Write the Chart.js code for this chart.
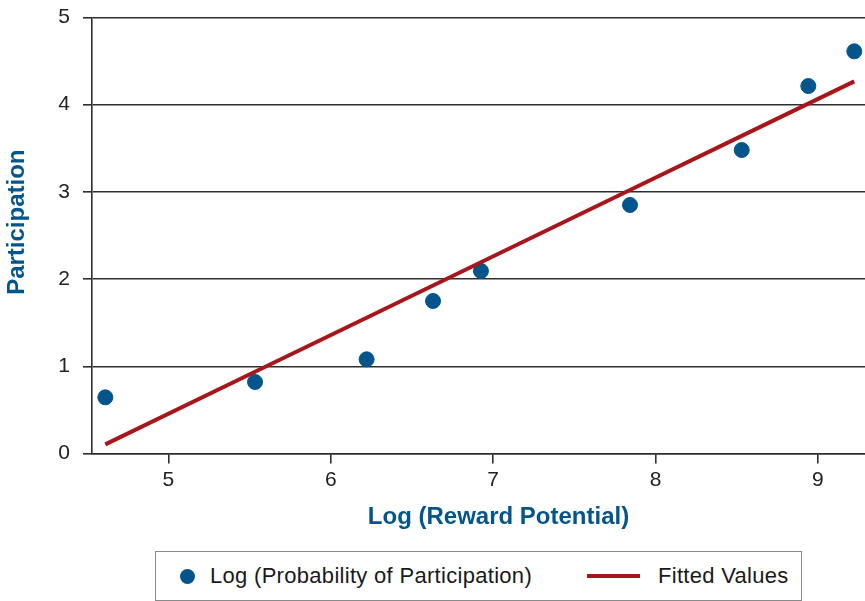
<!DOCTYPE html>
<html>
<head>
<meta charset="utf-8">
<script src="https://cdn.jsdelivr.net/npm/chart.js@4.4.1/dist/chart.umd.min.js"></script>
<style>
  html, body { margin: 0; padding: 0; background: #fff; }
  #wrap { position: relative; width: 865px; height: 601px; overflow: hidden; }
  #chart-box { position: absolute; left: 0; top: 0; width: 865px; height: 540px; }
  #legend {
    position: absolute; left: 155px; top: 551px; width: 647px; height: 50px;
    border: 1px solid #8a8a8a; box-sizing: border-box;
    font-family: "Liberation Sans", Arial, sans-serif; font-size: 22px; letter-spacing: 0.3px; color: #1a1a1a;
  }
  .item { position: absolute; top: 0; height: 48px; display: flex; align-items: center; }
  .dot { width: 15px; height: 15px; border-radius: 50%; margin-right: 15px; }
  .bar { width: 53px; height: 4px; margin-right: 18px; }
</style>
</head>
<body>
<div id="wrap">
  <div id="chart-box"><canvas id="chart"></canvas></div>
  <div id="legend"></div>
</div>
<script>
// log reward potential (x) and log probability of participation (y)
const rewardLog = [4.612, 5.534, 6.221, 6.630, 6.925, 7.843, 8.531, 8.941, 9.224];
const participationLog = [0.644, 0.820, 1.080, 1.749, 2.093, 2.850, 3.480, 4.214, 4.612];
// fitted line, at the same x values
const fittedValues = [0.105, 0.937, 1.557, 1.926, 2.193, 3.021, 3.642, 4.012, 4.268];
const xTicks = [5, 6, 7, 8, 9];
const yTicks = [0, 1, 2, 3, 4, 5];

const blue = '#03558c';
const red = '#a8161c';
const ink = '#222222';
const gridInk = '#2e2e2e';
const tickFont = { family: '"Liberation Sans", Arial, sans-serif', size: 21 };
const titleFont = { family: '"Liberation Sans", Arial, sans-serif', size: 24, weight: 'bold' };

const ctx = document.getElementById('chart').getContext('2d');

const chart = new Chart(ctx, {
  type: 'scatter',
  data: {
    datasets: [
      {
        label: 'Log (Probability of Participation)',
        data: rewardLog.map((x, i) => ({ x: x, y: participationLog[i] })),
        backgroundColor: blue,
        borderColor: blue,
        pointRadius: 7.5,
        pointHoverRadius: 7.5,
        order: 2
      },
      {
        type: 'line',
        label: 'Fitted Values',
        data: rewardLog.map((x, i) => ({ x: x, y: fittedValues[i] })),
        borderColor: red,
        backgroundColor: red,
        borderWidth: 4,
        pointRadius: 0,
        showLine: true,
        fill: false,
        order: 1
      }
    ]
  },
  options: {
    responsive: true,
    maintainAspectRatio: false,
    animation: false,
    layout: { autoPadding: false, padding: { top: 17.5, right: 0, bottom: 0, left: 0 } },
    plugins: {
      legend: { display: false },
      tooltip: { enabled: false }
    },
    scales: {
      x: {
        type: 'linear',
        min: 4.53,
        max: 9.29,
        afterBuildTicks: (axis) => { axis.ticks = xTicks.map((v) => ({ value: v })); },
        afterFit: (axis) => {
          axis.height = 540 - 453.5;
          axis.paddingLeft = 0;
          axis.paddingRight = 0;
        },
        ticks: { color: ink, font: tickFont, padding: 4, maxRotation: 0 },
        grid: { drawOnChartArea: false, drawTicks: true, tickLength: 10, color: gridInk, lineWidth: 1.6 },
        border: { display: true, color: gridInk, width: 1.6 },
        // leading spaces push the title a bit right, like the original
        title: { display: true, text: '\u00a0\u00a0\u00a0\u00a0\u00a0\u00a0Log (Reward Potential)', color: blue, font: titleFont, padding: { top: 0, bottom: 8 } }
      },
      y: {
        min: 0,
        max: 5,
        afterBuildTicks: (axis) => { axis.ticks = yTicks.map((v) => ({ value: v })); },
        afterFit: (axis) => {
          axis.width = 92;
          axis.paddingTop = 0;
          axis.paddingBottom = 0;
        },
        ticks: { color: ink, font: tickFont, padding: 13 },
        grid: { drawOnChartArea: true, drawTicks: true, tickLength: 9, color: gridInk, lineWidth: 1.6 },
        border: { display: true, color: gridInk, width: 1.6 },
        // leading spaces nudge the title up a little, like the original
        title: { display: true, text: '\u00a0\u00a0\u00a0\u00a0Participation', color: blue, font: titleFont, padding: { top: 3, bottom: 0 } }
      }
    }
  }
});

// legend built from the datasets
const legend = document.getElementById('legend');
const itemLefts = [24, 431];
chart.data.datasets.forEach((ds, i) => {
  const item = document.createElement('div');
  item.className = 'item';
  item.style.left = itemLefts[i] + 'px';
  const mark = document.createElement('span');
  mark.className = ds.type === 'line' ? 'bar' : 'dot';
  mark.style.background = ds.borderColor;
  const text = document.createElement('span');
  text.textContent = ds.label;
  item.appendChild(mark);
  item.appendChild(text);
  legend.appendChild(item);
});
</script>
</body>
</html>
